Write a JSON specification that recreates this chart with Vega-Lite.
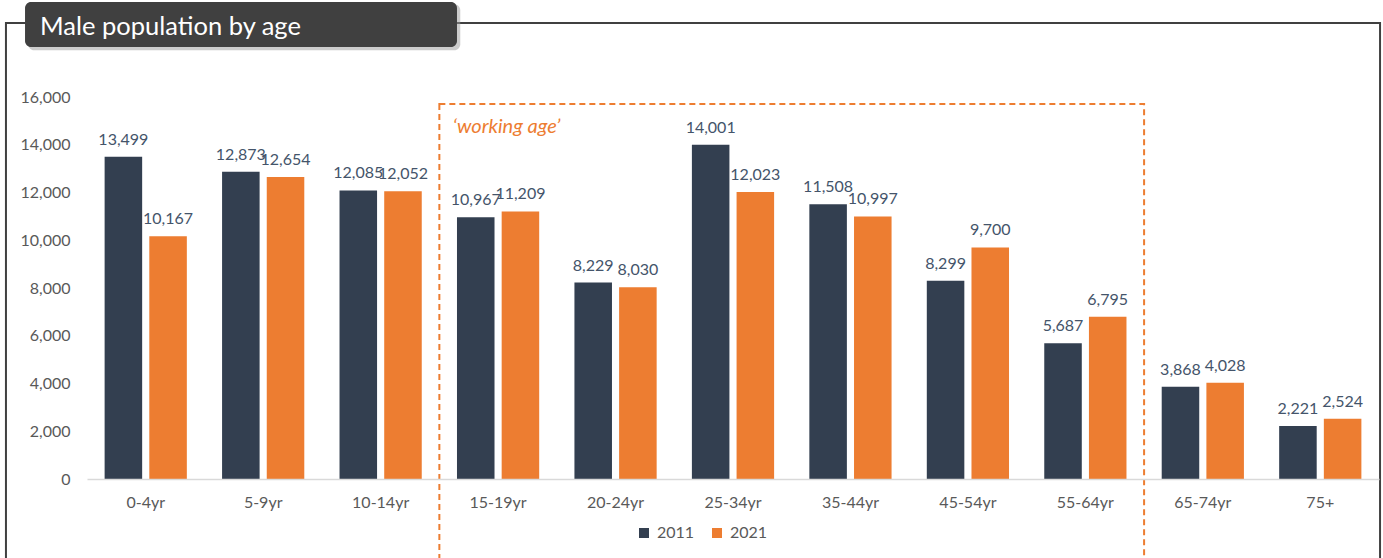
{
  "$schema": "https://vega.github.io/schema/vega-lite/v6.json",
  "autosize": {"type": "none"},
  "width": 1292,
  "height": 382,
  "padding": {"left": 87, "top": 97, "right": 4, "bottom": 79},
  "background": "white",
  "config": {"view": {"stroke": null}, "font": "Lato"},
  "data": {"values": [
    {"age": "0-4yr", "year": "2011", "value": 13499},
    {"age": "0-4yr", "year": "2021", "value": 10167},
    {"age": "5-9yr", "year": "2011", "value": 12873},
    {"age": "5-9yr", "year": "2021", "value": 12654},
    {"age": "10-14yr", "year": "2011", "value": 12085},
    {"age": "10-14yr", "year": "2021", "value": 12052},
    {"age": "15-19yr", "year": "2011", "value": 10967},
    {"age": "15-19yr", "year": "2021", "value": 11209},
    {"age": "20-24yr", "year": "2011", "value": 8229},
    {"age": "20-24yr", "year": "2021", "value": 8030},
    {"age": "25-34yr", "year": "2011", "value": 14001},
    {"age": "25-34yr", "year": "2021", "value": 12023},
    {"age": "35-44yr", "year": "2011", "value": 11508},
    {"age": "35-44yr", "year": "2021", "value": 10997},
    {"age": "45-54yr", "year": "2011", "value": 8299},
    {"age": "45-54yr", "year": "2021", "value": 9700},
    {"age": "55-64yr", "year": "2011", "value": 5687},
    {"age": "55-64yr", "year": "2021", "value": 6795},
    {"age": "65-74yr", "year": "2011", "value": 3868},
    {"age": "65-74yr", "year": "2021", "value": 4028},
    {"age": "75+", "year": "2011", "value": 2221},
    {"age": "75+", "year": "2021", "value": 2524}
  ]},
  "encoding": {
    "x": {
      "field": "age", "type": "nominal", "title": null,
      "scale": {"domain": ["0-4yr","5-9yr","10-14yr","15-19yr","20-24yr","25-34yr","35-44yr","45-54yr","55-64yr","65-74yr","75+"], "paddingInner": 0.3, "paddingOuter": 0.15},
      "axis": {"labelAngle": 0, "ticks": false, "domainColor": "#D9D9D9", "domainWidth": 1.5, "labelColor": "#595959", "labelFontSize": 16, "labelPadding": 15, "labelFont": "Lato"}
    },
    "y": {
      "field": "value", "type": "quantitative", "title": null,
      "scale": {"domain": [0, 16000], "nice": false, "zero": true},
      "axis": {"values": [0,2000,4000,6000,8000,10000,12000,14000,16000], "format": ",d", "grid": false, "domain": false, "ticks": false, "labelColor": "#595959", "labelFontSize": 16, "labelPadding": 17, "labelFont": "Lato"}
    }
  },
  "layer": [
    {
      "data": {"values": [{"from": "0-4yr", "to": "75+", "top": 19099, "bottom": -6000}]},
      "mark": {"type": "rect", "fill": null, "stroke": "#404040", "strokeWidth": 2, "clip": false},
      "encoding": {
        "x": {"field": "from", "type": "nominal", "bandPosition": -1.2},
        "x2": {"field": "to", "bandPosition": 1.227},
        "y": {"field": "top", "type": "quantitative"},
        "y2": {"field": "bottom"}
      }
    },
    {
      "data": {"values": [{"from": "15-19yr", "to": "55-64yr", "top": 15707, "bottom": -6000}]},
      "mark": {"type": "rect", "fill": null, "stroke": "#ED7D31", "strokeWidth": 2, "strokeDash": [6, 4], "clip": false},
      "encoding": {
        "x": {"field": "from", "type": "nominal", "bandPosition": -0.2143},
        "x2": {"field": "to", "bandPosition": 1.2143},
        "y": {"field": "top", "type": "quantitative"},
        "y2": {"field": "bottom"}
      }
    },
    {
      "data": {"values": [{"from": "0-4yr", "to": "15-19yr", "top": 19880, "bottom": 17960}]},
      "mark": {"type": "rect", "fill": "#9a9a9a", "opacity": 0.5, "cornerRadius": 6, "clip": false},
      "encoding": {
        "x": {"field": "from", "type": "nominal", "bandPosition": -0.93},
        "x2": {"field": "to", "bandPosition": 0.04},
        "y": {"field": "top", "type": "quantitative"},
        "y2": {"field": "bottom"}
      }
    },
    {
      "data": {"values": [{"from": "0-4yr", "to": "15-19yr", "top": 19979, "bottom": 18094}]},
      "mark": {"type": "rect", "fill": "#404040", "cornerRadius": 6, "clip": false},
      "encoding": {
        "x": {"field": "from", "type": "nominal", "bandPosition": -0.968},
        "x2": {"field": "to", "bandPosition": 0},
        "y": {"field": "top", "type": "quantitative"},
        "y2": {"field": "bottom"}
      }
    },
    {
      "data": {"values": [{"label": "Male population by age", "at": "0-4yr", "v": 18932}]},
      "mark": {"type": "text", "align": "left", "baseline": "middle", "color": "#FFFFFF", "fontSize": 25.5, "font": "Lato", "clip": false},
      "encoding": {
        "x": {"field": "at", "type": "nominal", "bandPosition": -0.786},
        "y": {"field": "v", "type": "quantitative"},
        "text": {"field": "label"}
      }
    },
    {
      "data": {"values": [{"label": "‘working age’", "at": "15-19yr", "v": 14743}]},
      "mark": {"type": "text", "align": "left", "baseline": "middle", "color": "#ED7D31", "fontSize": 20, "fontStyle": "italic", "font": "Lato"},
      "encoding": {
        "x": {"field": "at", "type": "nominal", "bandPosition": -0.05},
        "y": {"field": "v", "type": "quantitative"},
        "text": {"field": "label"}
      }
    },
    {
      "mark": {"type": "bar"},
      "encoding": {
        "xOffset": {"field": "year", "type": "nominal", "scale": {"paddingInner": 0.16, "paddingOuter": 0}},
        "color": {
          "field": "year", "type": "nominal",
          "scale": {"domain": ["2011", "2021"], "range": ["#333F50", "#ED7D31"]},
          "legend": {"orient": "none", "legendX": 549, "legendY": 428, "direction": "horizontal", "title": null, "symbolType": "square", "symbolSize": 100, "symbolStrokeWidth": 0, "labelFontSize": 16, "labelColor": "#595959", "labelOffset": 5, "columnPadding": 14, "labelFont": "Lato"}
        }
      }
    },
    {
      "mark": {"type": "text", "baseline": "bottom", "dy": -9, "fontSize": 16, "color": "#44546A", "font": "Lato"},
      "encoding": {
        "xOffset": {"field": "year", "type": "nominal", "scale": {"paddingInner": 0.16, "paddingOuter": 0}},
        "text": {"field": "value", "type": "quantitative", "format": ",d"}
      }
    }
  ]
}
